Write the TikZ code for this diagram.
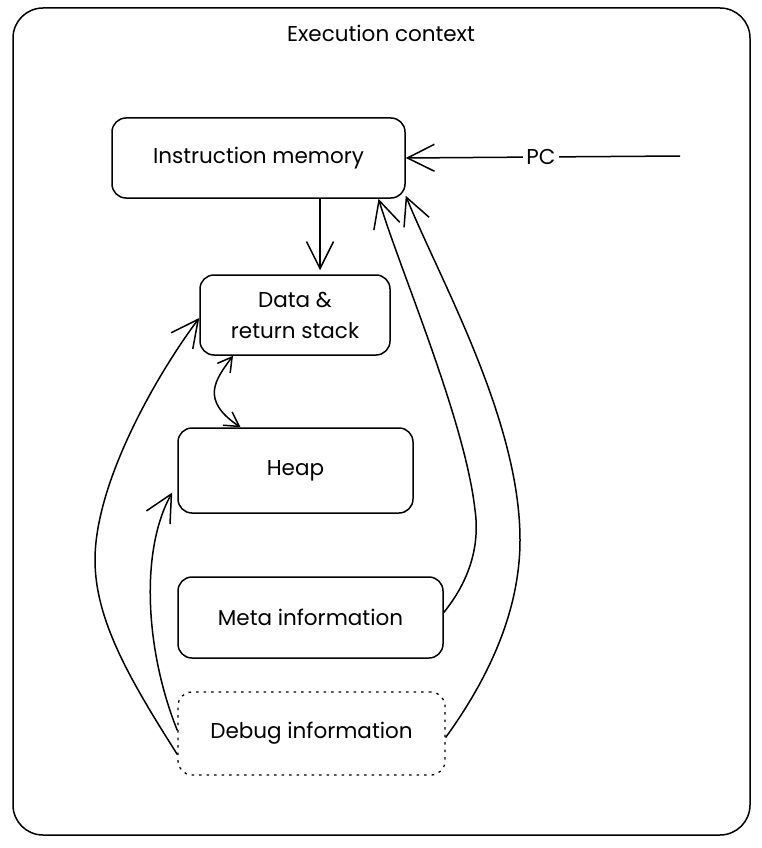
\documentclass[tikz,border=0pt]{standalone}
\usepackage{fontspec}
\setmainfont{Poppins}
\usetikzlibrary{arrows.meta, positioning}

\begin{document}
\begin{tikzpicture}[x=1pt, y=-1pt,
  txt/.style={font=\fontsize{21.5}{31}\selectfont},
  box/.style={draw, line width=1.5pt, rounded corners=14pt, align=center, txt},
  dotbox/.style={box, dash pattern=on 2.5pt off 5pt, line width=1.3pt},
  arr/.style={line width=1.5pt, -{Straight Barb[length=27pt, width=27pt, line width=1.5pt]}},
  darr/.style={line width=1.5pt, {Straight Barb[length=14pt, width=16pt, line width=1.5pt]}-{Straight Barb[length=14pt, width=16pt, line width=1.5pt]}}]

\useasboundingbox (0,0) rectangle (762,848);

% Marco exterior
\draw[line width=1.5pt, rounded corners=30pt] (13,8) rectangle (750,835);
\node[txt] (title) at (381,33) {Execution context};

% Bloques
\node[box, minimum width=293pt, minimum height=80pt] (imem) at (258.5,158) {Instruction memory};
\node[box, minimum width=190pt, minimum height=80pt] (stack) at (295,315) {Data \&\\return stack};
\node[box, minimum width=235pt, minimum height=85pt] (heap) at (295.5,470.5) {Heap};
\node[box, minimum width=265pt, minimum height=81pt] (meta) at (310.5,617.5) {Meta information};
\node[dotbox, minimum width=267pt, minimum height=83pt] (debug) at (311.5,733.5) {Debug information};

% Contador de programa
\node[txt] (pc) at (541,157) {PC};
\coordinate (pcend) at (680,156);
\draw[line width=1.5pt] (pc) -- (pcend);
\draw[arr] (pc) -- (imem.east);

% Flechas internas
\draw[arr] ([xshift=61.5pt]imem.south) -- ([xshift=25pt, yshift=4pt]stack.north);
\draw[darr] ([xshift=-62pt]stack.south) .. controls (215,380) and (200,400) .. ([xshift=-55pt]heap.north);

% Flechas de informacion
\draw[arr] ([yshift=-21pt]debug.west) .. controls (130,680) and (95,620) .. (95,560)
  .. controls (95,480) and (160,370) .. ([yshift=-3pt]stack.west);
\draw[arr] ([yshift=3pt]debug.west) .. controls (145,650) and (140,550) .. ([xshift=-5pt, yshift=-22pt]heap.west);
\draw[arr] ([yshift=5pt]meta.east) .. controls (470,580) and (480,545) .. (475,510)
  .. controls (465,420) and (400,270) .. ([xshift=120pt]imem.south);
\draw[arr] ([yshift=-4pt]debug.east) .. controls (480,690) and (520,620) .. (520,540)
  .. controls (520,420) and (440,280) .. ([yshift=3pt]imem.south east);

\end{tikzpicture}
\end{document}
